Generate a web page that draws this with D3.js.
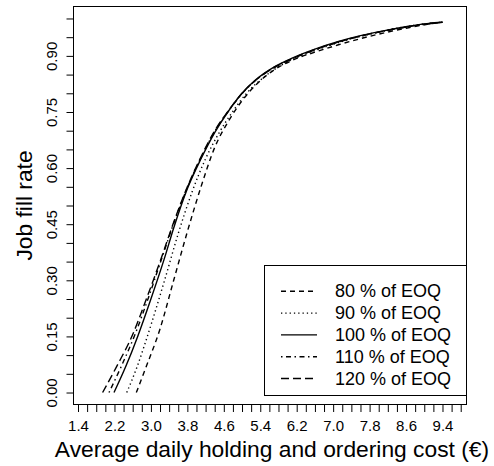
<!DOCTYPE html>
<html>
<head>
<meta charset="utf-8">
<script src="https://cdn.jsdelivr.net/npm/d3@7"></script>
<style>
  body { margin: 0; background: #fff; }
  text { font-family: "Liberation Sans", Arial, sans-serif; fill: #000; }
</style>
</head>
<body>
<svg id="chart" width="494" height="466"></svg>
<script>
// Series: [cost, fill rate]
var eoq80 = [[2.68,0],[2.9,0.07],[3.2,0.17],[3.5,0.30],[3.8,0.43],[4.1,0.55],[4.4,0.655],[4.7,0.725],[5.0,0.78],[5.3,0.822],[5.7,0.862],[6.1,0.888],[6.6,0.91],[7.1,0.929],[7.6,0.946],[8.1,0.961],[8.6,0.974],[9.1,0.985],[9.4,0.99]];
var eoq90 = [[2.47,0],[2.7,0.07],[3.0,0.18],[3.3,0.30],[3.6,0.425],[3.9,0.535],[4.2,0.625],[4.5,0.695],[4.8,0.752],[5.1,0.80],[5.5,0.845],[5.9,0.878],[6.4,0.905],[6.9,0.927],[7.4,0.946],[7.9,0.961],[8.4,0.974],[8.9,0.984],[9.4,0.99]];
var eoq100 = [[2.19,0],[2.45,0.07],[2.71,0.15],[3.0,0.25],[3.3,0.36],[3.5,0.44],[3.8,0.545],[4.1,0.625],[4.4,0.695],[4.7,0.752],[5.0,0.80],[5.3,0.836],[5.7,0.87],[6.1,0.894],[6.6,0.918],[7.1,0.938],[7.6,0.954],[8.1,0.967],[8.6,0.978],[9.1,0.987],[9.4,0.99]];
var eoq110 = [[2.08,0],[2.35,0.07],[2.65,0.155],[2.95,0.255],[3.2,0.345],[3.5,0.452],[3.8,0.548],[4.1,0.628],[4.4,0.698],[4.7,0.752],[5.0,0.799],[5.3,0.835],[5.7,0.869],[6.1,0.893],[6.6,0.917],[7.1,0.937],[7.6,0.953],[8.1,0.966],[8.6,0.977],[9.1,0.986],[9.4,0.99]];
var eoq120 = [[1.94,0],[2.25,0.07],[2.6,0.155],[2.9,0.25],[3.2,0.35],[3.5,0.455],[3.8,0.55],[4.1,0.63],[4.4,0.70],[4.7,0.753],[5.0,0.80],[5.3,0.835],[5.7,0.868],[6.1,0.892],[6.6,0.916],[7.1,0.936],[7.6,0.953],[8.1,0.966],[8.6,0.977],[9.1,0.986],[9.4,0.99]];

var seriesNames = ["80 % of EOQ", "90 % of EOQ", "100 % of EOQ", "110 % of EOQ", "120 % of EOQ"];
var seriesData = [eoq80, eoq90, eoq100, eoq110, eoq120];
var dashes = ["5,4", "1.3,3", null, "1.5,3.5,5,3.5", "8,4"];

// tick positions and which ones get labels
var xTicks = d3.range(14, 99, 2).map((d) => d / 10);
var xLabels = ["1.4", "2.2", "3.0", "3.8", "4.6", "5.4", "6.2", "7.0", "7.8", "8.6", "9.4"];
var yTicks = d3.range(0, 21).map((d) => d / 20);
var yLabels = ["0.00", "0.15", "0.30", "0.45", "0.60", "0.75", "0.90"];

// plot box edges (window.top is taken, so use other names)
var boxL = 73.5, boxR = 466.5, boxT = 6.5, boxB = 404.5;

var xScale = d3.scaleLinear().domain([1.301, 9.927]).range([boxL, boxR]);
var yScale = d3.scaleLinear().domain([-0.032, 1.032]).range([boxB, boxT]);

var svg = d3.select("#chart");

// x axis
var xAxis = svg.append("g")
  .attr("transform", "translate(0," + boxB + ")")
  .call(
    d3.axisBottom(xScale)
      .tickValues(xTicks)
      .tickSize(7.5)
      .tickPadding(8)
      .tickSizeOuter(0)
      .tickFormat((d) => {
        var s = d3.format(".1f")(d);
        return xLabels.indexOf(s) >= 0 ? s : "";
      })
  );
xAxis.select(".domain").remove();
xAxis.selectAll("line").attr("stroke", "#000");
xAxis.selectAll("text").style("font-size", "15px").attr("fill", "#000");

// y axis, labels turned like R does
var yAxis = svg.append("g")
  .attr("transform", "translate(" + boxL + ",0)")
  .call(
    d3.axisLeft(yScale)
      .tickValues(yTicks)
      .tickSize(7)
      .tickSizeOuter(0)
      .tickFormat((d) => {
        var s = d3.format(".2f")(d);
        return yLabels.indexOf(s) >= 0 ? s : "";
      })
  );
yAxis.select(".domain").remove();
yAxis.selectAll("line").attr("stroke", "#000");
yAxis.selectAll("text")
  .style("font-size", "15px")
  .attr("fill", "#000")
  .attr("text-anchor", "middle")
  .attr("transform", "rotate(-90)")
  .attr("x", 0)
  .attr("y", -16.5)
  .attr("dy", null);

// plot box
svg.append("rect")
  .attr("x", boxL)
  .attr("y", boxT)
  .attr("width", boxR - boxL)
  .attr("height", boxB - boxT)
  .attr("fill", "none")
  .attr("stroke", "#000");

// curves
var line = d3.line()
  .x((d) => xScale(d[0]))
  .y((d) => yScale(d[1]))
  .curve(d3.curveMonotoneX);

svg.selectAll(".curve")
  .data(seriesData)
  .enter()
  .append("path")
  .attr("class", "curve")
  .attr("d", line)
  .attr("fill", "none")
  .attr("stroke", "#000")
  .attr("stroke-width", 1.4)
  .attr("stroke-dasharray", (d, i) => dashes[i]);

// axis titles
svg.append("text")
  .attr("x", (boxL + boxR) / 2 + 2)
  .attr("y", 457)
  .attr("text-anchor", "middle")
  .style("font-size", "22.8px")
  .text("Average daily holding and ordering cost (€)");

svg.append("text")
  .attr("transform", "translate(32," + (boxT + boxB) / 2 + ") rotate(-90)")
  .attr("text-anchor", "middle")
  .style("font-size", "22.8px")
  .text("Job fill rate");

// legend in the lower right corner
var legend = svg.append("g");
legend.append("rect")
  .attr("x", 264.5)
  .attr("y", 265.5)
  .attr("width", boxR - 264.5)
  .attr("height", 130)
  .attr("fill", "#fff")
  .attr("stroke", "#000");

var rows = legend.selectAll(".row")
  .data(seriesNames)
  .enter()
  .append("g")
  .attr("class", "row")
  .attr("transform", (d, i) => "translate(0," + (297.3 + i * 21.8) + ")");

rows.append("line")
  .attr("x1", 281)
  .attr("x2", 317)
  .attr("y1", -6)
  .attr("y2", -6)
  .attr("stroke", "#000")
  .attr("stroke-width", 1.4)
  .attr("stroke-dasharray", (d, i) => dashes[i]);

rows.append("text")
  .attr("x", 335)
  .style("font-size", "18px")
  .text((d) => d);
</script>
</body>
</html>
